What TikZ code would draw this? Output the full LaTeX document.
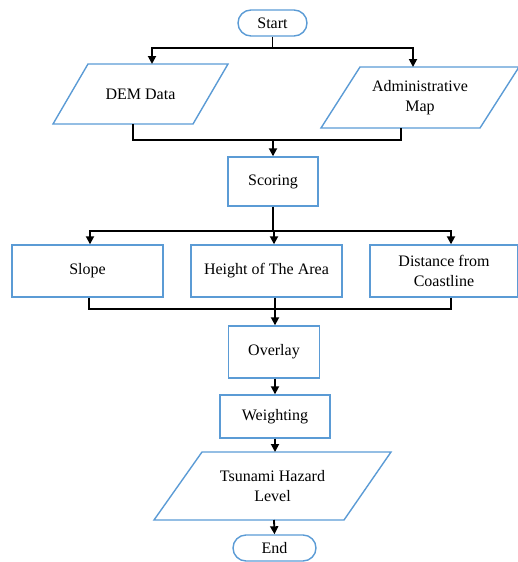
\documentclass[tikz,border=0pt]{standalone}
\usepackage{fontspec}
\setmainfont{Liberation Serif}
\usetikzlibrary{arrows.meta}
\definecolor{boxblue}{RGB}{91,155,213}
\begin{document}
\begin{tikzpicture}[x=1pt,y=-1pt,
  every node/.style={font=\fontsize{16}{20}\selectfont, align=center, inner sep=0pt},
  procbox/.style={draw=boxblue, line width=1.4pt, rectangle},
  termbox/.style={draw=boxblue, line width=1.4pt, rectangle, rounded corners=13pt},
  iotext/.style={},
  ioline/.style={draw=boxblue, line width=1.4pt, line join=miter},
  conn/.style={draw=black, line width=1.8pt},
  arr/.style={conn, -{Triangle[length=8pt,width=8pt]}}]
\useasboundingbox (0,0) rectangle (518,562);
% nodes
\node[termbox, minimum width=69, minimum height=26] (start) at (272.5,23) {Start};
\node[iotext] (dem) at (140.5,94) {DEM Data};
\draw[ioline, shift={(dem.center)}] (-52.5,-30) -- (87.5,-30) -- (52.5,30) -- (-87.5,30) -- cycle
  (0,-30) coordinate (demN) (0,30) coordinate (demS);
\node[iotext] (admin) at (420,97.5) {Administrative\\Map};
\draw[ioline, shift={(admin.center)}] (-60,-30.5) -- (99,-30.5) -- (60,30.5) -- (-99,30.5) -- cycle
  (0,-30.5) coordinate (adminN) (0,30.5) coordinate (adminS);
\node[procbox, minimum width=90, minimum height=49] (scoring) at (273,181.5) {Scoring};
\node[procbox, minimum width=151, minimum height=52] (slope) at (87.5,271) {Slope};
\node[procbox, minimum width=151, minimum height=52] (height) at (266.5,271) {Height of The Area};
\node[procbox, minimum width=148, minimum height=52] (dist) at (444,271) {Distance from\\Coastline};
\node[procbox, minimum width=91, minimum height=52] (overlay) at (274,352) {Overlay};
\node[procbox, minimum width=110, minimum height=43] (weight) at (275,416.5) {Weighting};
\node[iotext] (tsu) at (272.5,486) {Tsunami Hazard\\Level};
\draw[ioline, shift={(tsu.center)}] (-70.5,-34) -- (118.5,-34) -- (71.5,34) -- (-118.5,34) -- cycle
  (0,-34) coordinate (tsuN) (0,34) coordinate (tsuS);
\node[termbox, minimum width=83, minimum height=26] (end) at (274.5,548) {End};
% junction coordinates
\coordinate (j1) at (272.5,48);
\coordinate (j2) at (273,140);
\coordinate (j3) at (273,231);
\coordinate (j4) at (275,309);
% connectors
\draw[conn] (start.south) -- (j1);
\draw[arr] (j1) -| ([xshift=11.5]demN);
\draw[arr] (j1) -| ([xshift=-7]adminN);
\draw[conn] ([xshift=-7.5]demS) |- (j2);
\draw[conn] ([xshift=-19]adminS) |- (j2);
\draw[arr] (j2) -- (scoring.north);
\draw[conn] (scoring.south) -- (j3);
\draw[arr] (j3) -| ([xshift=2.5]slope.north);
\draw[arr] (j3) -| ([xshift=7.5]height.north);
\draw[arr] (j3) -| ([xshift=7]dist.north);
\draw[conn] ([xshift=1.5]slope.south) |- (j4);
\draw[conn] ([xshift=7]dist.south) |- (j4);
\draw[conn] ([xshift=8.5]height.south) -- (j4);
\draw[arr] (j4) -- (overlay.north -| j4);
\draw[arr] (overlay.south -| weight.south) -- (weight.north);
\draw[arr] (weight.south) -- (tsuN -| weight.south);
\draw[arr] ([xshift=1.5]tsuS) -- (end.north);
\end{tikzpicture}
\end{document}
